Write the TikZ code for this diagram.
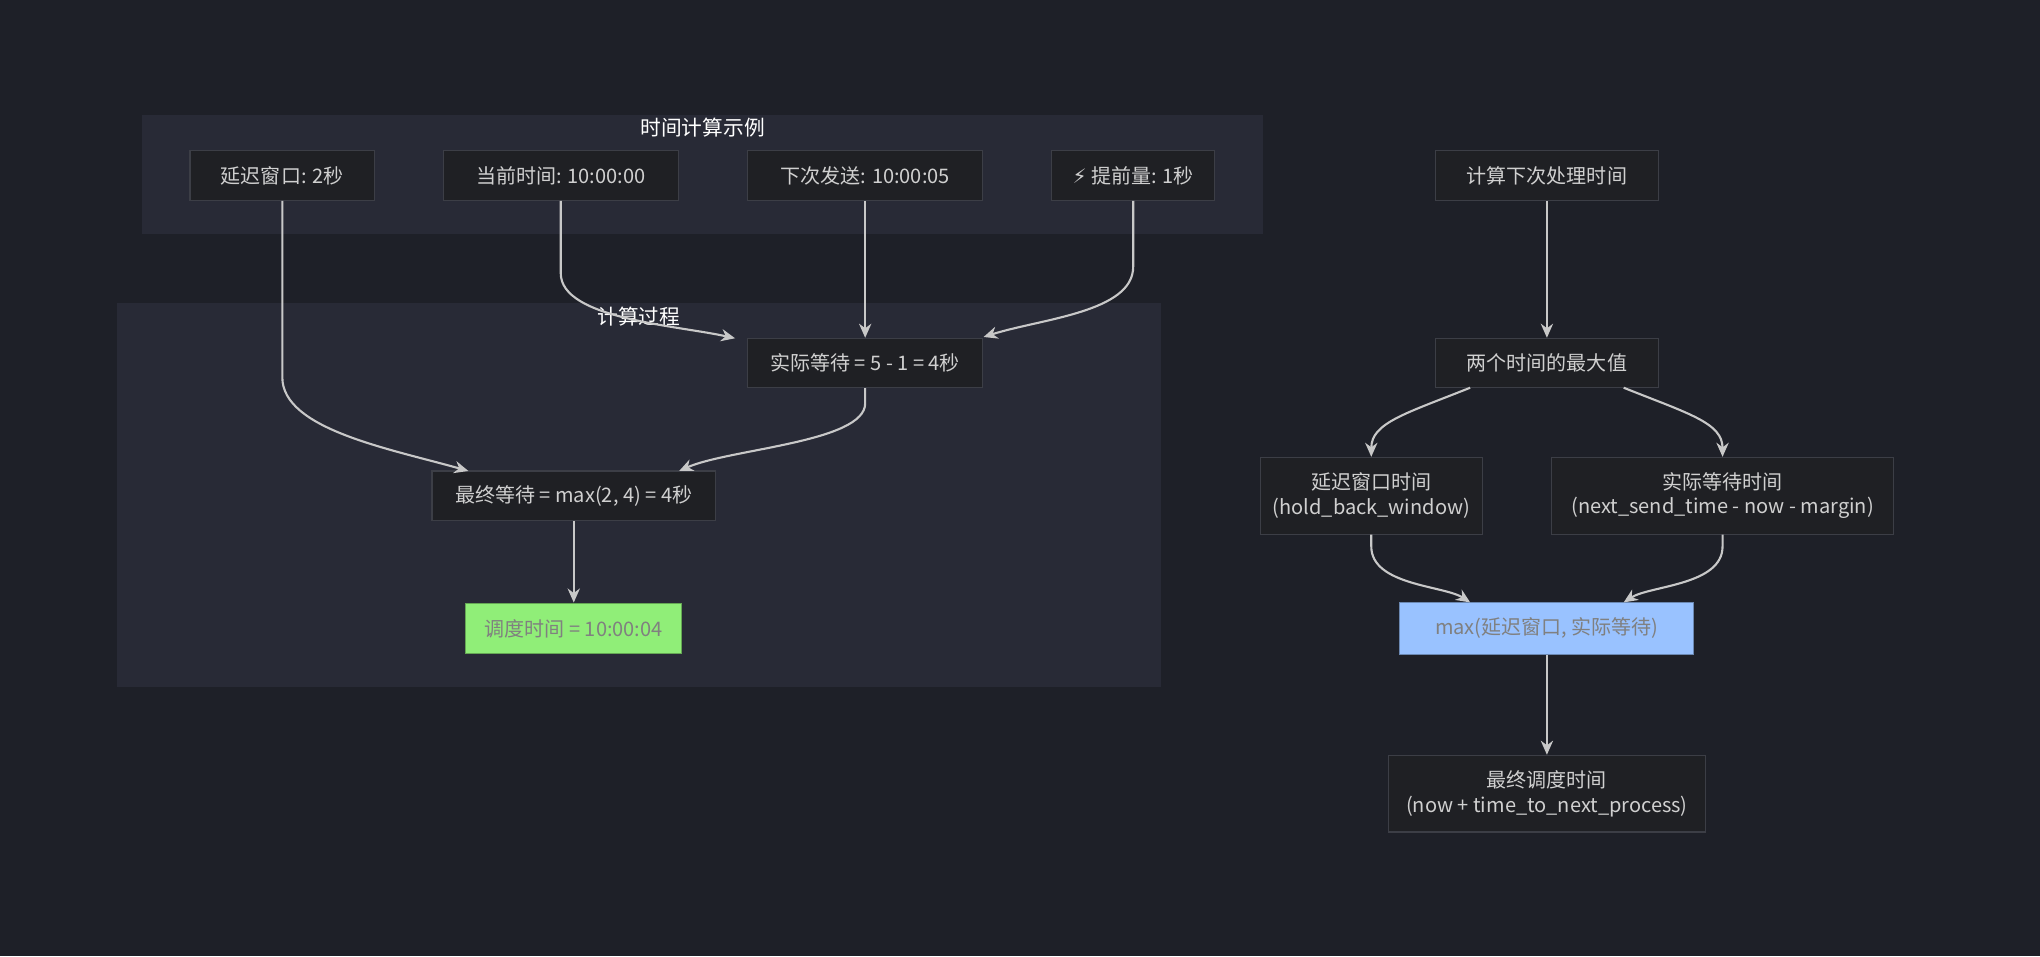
\documentclass[tikz,border=0pt]{standalone}
\usepackage{fontspec}
\setmainfont{Noto Sans CJK SC}
\newfontfamily\emo{DejaVu Sans}
\usetikzlibrary{arrows.meta}
\definecolor{bg}{HTML}{1E2028}
\definecolor{cl}{HTML}{282A36}
\definecolor{nf}{HTML}{1F2024}
\definecolor{nb}{HTML}{3C3E46}
\definecolor{tx}{HTML}{D0D0D0}
\definecolor{ed}{HTML}{C8C8C8}
\definecolor{gr}{HTML}{90EE78}
\definecolor{bl}{HTML}{99C2FF}
\begin{document}
\begin{tikzpicture}[x=0.01301cm,y=-0.01301cm,
 every node/.style={font=\fontsize{5.7pt}{7pt}\selectfont, text=tx},
 box/.style n args={2}{draw=nb, fill=nf, line width=0.3pt, inner sep=0pt, align=center, minimum width=#1*0.3702pt, minimum height=#2*0.3702pt},
 ttl/.style={font=\fontsize{5.9pt}{7pt}\selectfont, text=white},
 e/.style={draw=ed, line width=0.6pt, -{Stealth[length=4pt,width=3.5pt]}}]
\fill[bg] (0,0) rectangle (1568,735);
\useasboundingbox (0,0) rectangle (1568,735);
\fill[cl] (109,88) rectangle (971,180);
\node[ttl] (t1) at (540,98) {时间计算示例};
\fill[cl] (90,233) rectangle (892,528);
\node[ttl] (t2) at (491,243) {计算过程};
\node[box={142}{38}] (A) at (217,135) {延迟窗口: 2秒};
\node[box={181}{38}] (B) at (431,135) {当前时间: 10:00:00};
\node[box={181}{38}] (C) at (665,135) {下次发送: 10:00:05};
\node[box={125}{38}] (D) at (871,135) {{\emo ⚡} 提前量: 1秒};
\node[box={181}{38}] (E) at (665,279) {实际等待 = 5 - 1 = 4秒};
\node[box={218}{38}] (F) at (441,381) {最终等待 = max(2, 4) = 4秒};
\node[box={166}{39}, fill=gr, draw=gr!70!black, text=gray] (G) at (441,483) {调度时间 = 10:00:04};
\node[box={172}{38}] (H) at (1189,135) {计算下次处理时间};
\node[box={172}{38}] (I) at (1189,279) {两个时间的最大值};
\node[box={171}{59}] (J) at (1054,381) {延迟窗口时间\\(hold\_back\_window)};
\node[box={263}{59}] (K) at (1324,381) {实际等待时间\\(next\_send\_time - now - margin)};
\node[box={226}{40}, fill=bl, draw=bl!70!black, text=gray] (L) at (1189,483) {max(延迟窗口, 实际等待)};
\node[box={244}{59}] (M) at (1189,610) {最终调度时间\\(now + time\_to\_next\_process)};
\coordinate (f1) at (360,362); \coordinate (f2) at (522,362);
\coordinate (e1) at (565,260); \coordinate (e2) at (756,259);
\coordinate (i1) at (1130,298); \coordinate (i2) at (1248,298);
\coordinate (l1) at (1130,463); \coordinate (l2) at (1248,463);
\draw[e] (A.south) -- (217,290) .. controls (217,330) and (300,345) .. (f1);
\draw[e] (B.south) -- (431,210) .. controls (431,245) and (520,250) .. (e1);
\draw[e] (C) -- (E);
\draw[e] (D.south) -- (871,205) .. controls (871,240) and (800,245) .. (e2);
\draw[e] (E.south) -- (665,310) .. controls (665,340) and (560,345) .. (f2);
\draw[e] (F) -- (G);
\draw[e] (H) -- (I);
\draw[e] (i1) .. controls (1080,318) and (1054,325) .. (J.north);
\draw[e] (i2) .. controls (1298,318) and (1324,325) .. (K.north);
\draw[e] (J.south) -- (1054,420) .. controls (1054,450) and (1110,450) .. (l1);
\draw[e] (K.south) -- (1324,420) .. controls (1324,450) and (1268,450) .. (l2);
\draw[e] (L) -- (M);
\end{tikzpicture}
\end{document}
